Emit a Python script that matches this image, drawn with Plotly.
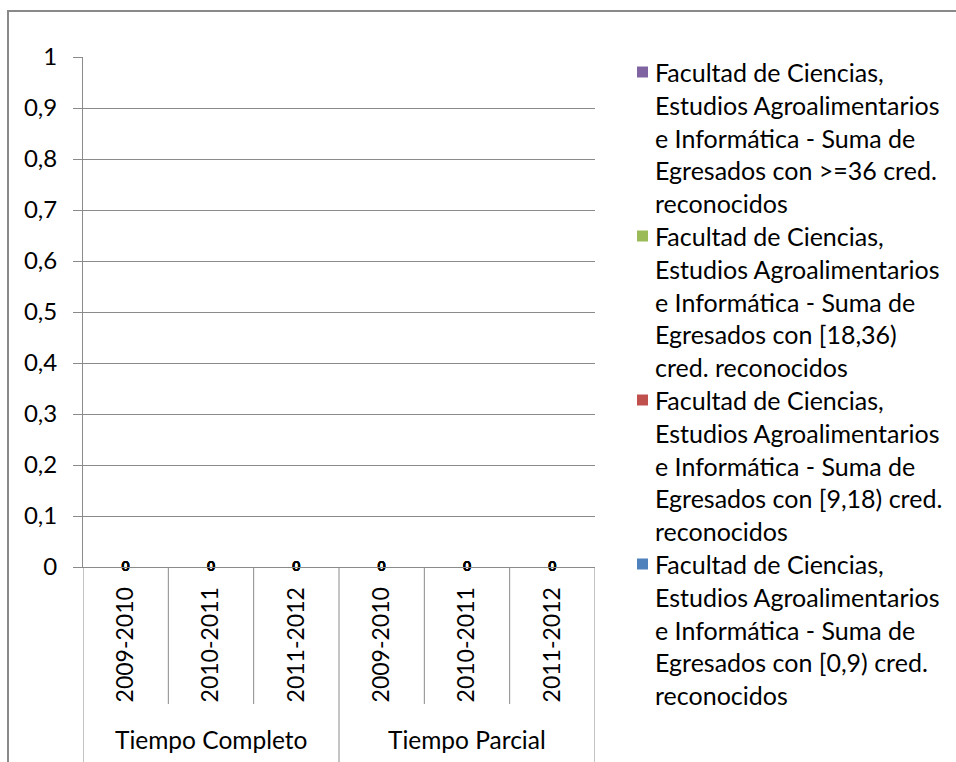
import plotly.graph_objects as go

# ---------------- data ----------------
groups = ["Tiempo Completo"] * 3 + ["Tiempo Parcial"] * 3
years = ["2009-2010", "2010-2011", "2011-2012"] * 2
group_names = ["Tiempo Completo", "Tiempo Parcial"]

series_names = [
    "Facultad de Ciencias, Estudios Agroalimentarios e Informática - Suma de Egresados con [0,9) cred. reconocidos",
    "Facultad de Ciencias, Estudios Agroalimentarios e Informática - Suma de Egresados con [9,18) cred. reconocidos",
    "Facultad de Ciencias, Estudios Agroalimentarios e Informática - Suma de Egresados con [18,36) cred. reconocidos",
    "Facultad de Ciencias, Estudios Agroalimentarios e Informática - Suma de Egresados con >=36 cred. reconocidos",
]
legend_lines = [
    ["Facultad de Ciencias,", "Estudios Agroalimentarios", "e Informática - Suma de", "Egresados con [0,9) cred.", "reconocidos"],
    ["Facultad de Ciencias,", "Estudios Agroalimentarios", "e Informática - Suma de", "Egresados con [9,18) cred.", "reconocidos"],
    ["Facultad de Ciencias,", "Estudios Agroalimentarios", "e Informática - Suma de", "Egresados con [18,36)", "cred. reconocidos"],
    ["Facultad de Ciencias,", "Estudios Agroalimentarios", "e Informática - Suma de", "Egresados con >=36 cred.", "reconocidos"],
]
vals_0_9 = [0, 0, 0, 0, 0, 0]
vals_9_18 = [0, 0, 0, 0, 0, 0]
vals_18_36 = [0, 0, 0, 0, 0, 0]
vals_36 = [0, 0, 0, 0, 0, 0]
series_values = [vals_0_9, vals_9_18, vals_18_36, vals_36]
colors = ["#4F81BD", "#C0504D", "#9BBB59", "#8064A2"]

y_ticks = [0, 0.1, 0.2, 0.3, 0.4, 0.5, 0.6, 0.7, 0.8, 0.9, 1]

# ---------------- layout constants ----------------
W, H = 956, 762
L, T = 83, 57
PW, PH = 512, 510
R = W - L - PW
B = H - T - PH
FONT = "Lato, Carlito, 'Liberation Sans', sans-serif"
GRID = "#8a8a8a"

def px_x(x):
    return (x - L) / PW

def px_y(y):
    return (T + PH - y) / PH

n = len(years)
xi = list(range(n))

fig = go.Figure()

cum = [0] * n
for name, vals, col in zip(series_names, series_values, colors):
    fig.add_trace(go.Bar(x=xi, y=vals, name=name, width=0.55,
                         marker_color=col, showlegend=False))
    cum = [c + v for c, v in zip(cum, vals)]
    fig.add_trace(go.Scatter(x=xi, y=cum, mode="text",
                             text=[str(v) for v in vals],
                             textposition="middle center",
                             cliponaxis=False,
                             textfont=dict(family=FONT, size=14, color="#000000", weight="bold"),
                             showlegend=False, hoverinfo="skip"))

shapes = []
annotations = []

# outer chart border (cropped at right and bottom)
shapes.append(dict(type="rect", xref="paper", yref="paper",
                   x0=px_x(8), x1=px_x(W + 20), y0=px_y(H + 20), y1=px_y(11),
                   line=dict(color="#898989", width=2), fillcolor="rgba(0,0,0,0)", layer="below"))

# category separators (short between years, long at group edges)
for k in range(n + 1):
    if k == 0 or k == n:
        edge = True
    else:
        edge = groups[k - 1] != groups[k]
    y_end = H + 10 if edge else 704
    shapes.append(dict(type="line", xref="x", yref="paper",
                       x0=k - 0.5, x1=k - 0.5, y0=0, y1=px_y(y_end),
                       line=dict(color=GRID, width=1)))

# group labels
for g in group_names:
    idx = [i for i, gg in enumerate(groups) if gg == g]
    annotations.append(dict(xref="x", yref="paper", x=sum(idx) / len(idx), y=px_y(739),
                            text=g, showarrow=False, xanchor="center", yanchor="middle",
                            font=dict(family=FONT, size=24.5, color="#000000")))

# legend (drawn manually to match Excel line spacing)
line_h = 32.8
first_y = 72
order = [3, 2, 1, 0]
for i, s in enumerate(order):
    for j, txt in enumerate(legend_lines[s]):
        yy = first_y + (i * 5 + j) * line_h
        annotations.append(dict(xref="paper", yref="paper", x=px_x(653), y=px_y(yy),
                                text=txt, showarrow=False, xanchor="left", yanchor="middle",
                                font=dict(family=FONT, size=25, color="#000000")))
    yy = first_y + i * 5 * line_h
    shapes.append(dict(type="rect", xref="paper", yref="paper",
                       x0=px_x(637), x1=px_x(648), y0=px_y(yy + 5.5), y1=px_y(yy - 5.5),
                       line=dict(width=0), fillcolor=colors[s]))

fig.update_layout(
    width=W, height=H,
    margin=dict(l=L, r=R, t=T, b=B, pad=0),
    paper_bgcolor="white", plot_bgcolor="white",
    barmode="stack",
    separators=", ",
    font=dict(family=FONT, size=22, color="#000000"),
    shapes=shapes,
    annotations=annotations,
    showlegend=False,
)

fig.update_yaxes(range=[0, 1], tickvals=y_ticks, showgrid=True, gridcolor=GRID, gridwidth=1,
                 showline=True, linecolor=GRID, linewidth=1,
                 ticks="outside", ticklen=9, tickcolor=GRID,
                 tickfont=dict(family=FONT, size=24, color="#000000"),
                 ticklabelstandoff=11, zeroline=False, fixedrange=True)

fig.update_xaxes(range=[-0.5, n - 0.5], tickvals=xi, ticktext=years, tickangle=-90,
                 showline=True, linecolor=GRID, linewidth=1,
                 ticks="", showgrid=False, zeroline=False, ticklabelstandoff=10,
                 tickfont=dict(family=FONT, size=23, color="#000000"), fixedrange=True)

fig.write_html("out.html", config={"displayModeBar": False},
               post_script="document.body.style.margin='0px';")
